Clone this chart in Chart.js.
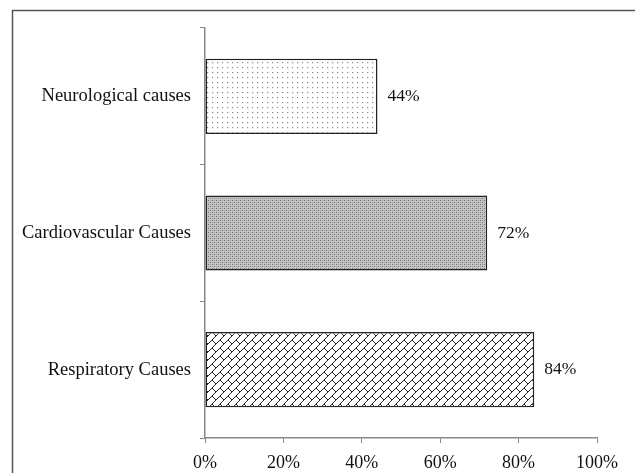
<!DOCTYPE html>
<html>
<head>
<meta charset="utf-8">
<script src="https://cdn.jsdelivr.net/npm/chart.js@4"></script>
<style>
html,body{margin:0;padding:0;background:#fff;}
#wrap{width:635px;height:473px;position:relative;}
</style>
</head>
<body>
<div id="wrap"><canvas id="c" width="635" height="473"></canvas></div>
<script>
const categories = ["Neurological causes", "Cardiovascular Causes", "Respiratory Causes"];
const values = [44, 72, 84];
const xTicks = [0, 20, 40, 60, 80, 100];

function makeTile(size, draw) {
  const c = document.createElement('canvas');
  c.width = size; c.height = size;
  const g = c.getContext('2d');
  draw(g, size);
  return g.createPattern(c, 'repeat');
}
const dotPattern = makeTile(5, (g, s) => {
  g.fillStyle = '#fff'; g.fillRect(0, 0, s, s);
  g.fillStyle = '#8a8a8a';
  g.fillRect(2, 2, 1.2, 1.2);
});
const densePattern = makeTile(4, (g, s) => {
  g.fillStyle = '#c4c4c4'; g.fillRect(0, 0, s, s);
  g.fillStyle = '#777';
  g.fillRect(0, 0, 1, 1);
  g.fillRect(2, 2, 1, 1);
  g.fillStyle = '#9c9c9c';
  g.fillRect(2, 0, 1, 1);
  g.fillRect(0, 2, 1, 1);
});
const brickPattern = makeTile(8, (g, s) => {
  g.fillStyle = '#fff'; g.fillRect(0, 0, s, s);
  g.strokeStyle = '#222'; g.lineWidth = 1;
  g.beginPath();
  g.moveTo(-1, s + 1); g.lineTo(s + 1, -1);
  g.moveTo(s / 2, s / 2); g.lineTo(s + 1, s + 1);
  g.stroke();
});
const fills = [dotPattern, densePattern, brickPattern];

const frame = {
  id: 'frame',
  afterDraw(chart) {
    const c = chart.ctx;
    c.save();
    c.strokeStyle = '#555';
    c.lineWidth = 1.5;
    c.strokeRect(12.5, 10.5, 700, 700);
    c.restore();
  }
};
const valueLabels = {
  id: 'valueLabels',
  afterDatasetsDraw(chart) {
    const c = chart.ctx;
    const meta = chart.getDatasetMeta(0);
    c.save();
    c.font = '17.5px "Liberation Serif", "Times New Roman", serif';
    c.fillStyle = '#111';
    c.textBaseline = 'middle';
    c.textAlign = 'left';
    meta.data.forEach((bar, i) => {
      c.fillText(values[i] + '%', bar.x + 10, bar.y);
    });
    c.restore();
  }
};

new Chart(document.getElementById('c'), {
  type: 'bar',
  data: {
    labels: categories,
    datasets: [{
      data: values,
      backgroundColor: fills,
      borderColor: '#222',
      borderWidth: 1.5,
      borderSkipped: false,
      barPercentage: 0.55,
      categoryPercentage: 1.0
    }]
  },
  options: {
    indexAxis: 'y',
    responsive: false,
    animation: false,
    devicePixelRatio: 1,
    layout: { padding: { top: 28, right: 38, bottom: 0, left: 0 } },
    plugins: { legend: { display: false }, tooltip: { enabled: false } },
    scales: {
      x: {
        min: 0, max: 100,
        afterBuildTicks(axis) { axis.ticks = xTicks.map(v => ({ value: v })); },
        afterFit(axis) { axis.height = 35; },
        grid: { drawOnChartArea: false, drawTicks: true, tickLength: 5, color: '#888' },
        border: { display: true, color: '#888', width: 1.5 },
        ticks: {
          padding: 9,
          color: '#111',
          font: { family: '"Liberation Serif", "Times New Roman", serif', size: 18 },
          callback: v => v + '%',
          maxRotation: 0
        }
      },
      y: {
        afterFit(axis) { axis.width = 205; },
        grid: { drawOnChartArea: false, drawTicks: true, tickLength: 5, color: '#888', offset: true },
        border: { display: true, color: '#888', width: 1.5 },
        ticks: {
          padding: 9,
          color: '#111',
          font: { family: '"Liberation Serif", "Times New Roman", serif', size: 18.5 }
        }
      }
    }
  },
  plugins: [frame, valueLabels]
});
</script>
</body>
</html>
